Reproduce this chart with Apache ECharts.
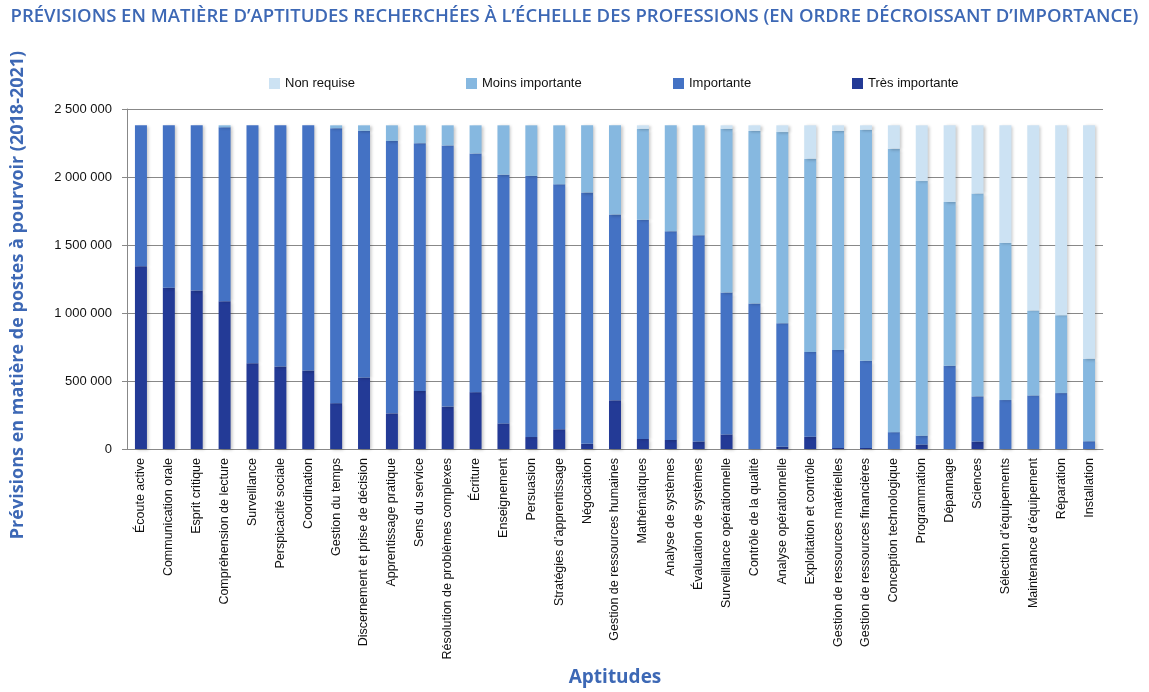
<!DOCTYPE html>
<html>
<head>
<meta charset="utf-8">
<script src="https://cdn.jsdelivr.net/npm/echarts@6/dist/echarts.min.js"></script>
<style>
  html, body { margin: 0; padding: 0; background: #fff; }
  #chart { width: 1149px; height: 692px; }
</style>
</head>
<body>
<div id="chart"></div>
<script>
// données
var aptitudes = ['Écoute active', 'Communication orale', 'Esprit critique', 'Compréhension de lecture', 'Surveillance',
  'Perspicacité sociale', 'Coordination', 'Gestion du temps', 'Discernement et prise de décision', 'Apprentissage pratique',
  'Sens du service', 'Résolution de problèmes complexes', 'Écriture', 'Enseignement', 'Persuasion',
  'Stratégies d’apprentissage', 'Négociation', 'Gestion de ressources humaines', 'Mathématiques', 'Analyse de systèmes',
  'Évaluation de systèmes', 'Surveillance opérationnelle', 'Contrôle de la qualité', 'Analyse opérationnelle', 'Exploitation et contrôle',
  'Gestion de ressources matérielles', 'Gestion de ressources financières', 'Conception technologique', 'Programmation', 'Dépannage',
  'Sciences', 'Sélection d’équipements', 'Maintenance d’équipement', 'Réparation', 'Installation'];

var tresImportante = [1344000, 1186000, 1165000, 1086000, 630000, 606000, 577000, 337000, 525000, 262000,
  427000, 312000, 418000, 188000, 88000, 145000, 38000, 358000, 74000, 67000,
  55000, 107000, 0, 16000, 90000, 8000, 8000, 0, 33000, 0,
  55000, 0, 0, 0, 0];

var importante = [1036000, 1194000, 1215000, 1280000, 1750000, 1774000, 1803000, 2022000, 1814000, 2003000,
  1822000, 1920000, 1755000, 1829000, 1920000, 1801000, 1848000, 1366000, 1612000, 1535000,
  1516000, 1043000, 1069000, 908000, 623000, 720000, 641000, 124000, 65000, 613000,
  332000, 360000, 394000, 411000, 57000];

var moinsImportante = [0, 0, 0, 14000, 0, 0, 0, 21000, 41000, 115000,
  131000, 148000, 207000, 363000, 372000, 434000, 494000, 656000, 668000, 778000,
  809000, 1204000, 1270000, 1406000, 1421000, 1611000, 1698000, 2084000, 1872000, 1204000,
  1492000, 1154000, 625000, 573000, 607000];

var nonRequise = [0, 0, 0, 0, 0, 0, 0, 0, 0, 0,
  0, 0, 0, 0, 0, 0, 0, 0, 26000, 0,
  0, 26000, 41000, 50000, 246000, 41000, 33000, 172000, 410000, 563000,
  501000, 866000, 1361000, 1396000, 1716000];

var yTicks = [0, 500000, 1000000, 1500000, 2000000, 2500000];

var couleurs = {
  'Très importante': '#233a96',
  'Importante': '#4472c4',
  'Moins importante': '#86b8e0',
  'Non requise': '#cce2f3'
};

(function () {
  var chart = echarts.init(document.getElementById('chart'));

  function serie(nom, valeurs) {
    return {
      name: nom,
      type: 'bar',
      stack: 'total',
      barWidth: 12,
      data: valeurs,
      itemStyle: {
        color: couleurs[nom],
        shadowBlur: 3,
        shadowOffsetX: 2,
        shadowOffsetY: 1,
        shadowColor: 'rgba(0,0,0,0.22)'
      }
    };
  }

  function legende(nom, gauche) {
    return {
      data: [nom],
      left: gauche,
      top: 72,
      icon: 'rect',
      itemWidth: 11,
      itemHeight: 11,
      textStyle: { fontSize: 13, color: '#111', fontFamily: 'Liberation Sans, sans-serif' }
    };
  }

  var option = {
    animation: false,
    title: {
      text: 'PRÉVISIONS EN MATIÈRE D’APTITUDES RECHERCHÉES À L’ÉCHELLE DES PROFESSIONS (EN ORDRE DÉCROISSANT D’IMPORTANCE)',
      left: 'center',
      top: 2,
      textStyle: { fontSize: 18.5, fontWeight: 600, color: '#3d68b5', fontFamily: 'Open Sans, sans-serif' }
    },
    legend: [
      legende('Non requise', 264),
      legende('Moins importante', 461),
      legende('Importante', 668),
      legende('Très importante', 847)
    ],
    graphic: [{
      type: 'text',
      x: 18,
      y: 295,
      rotation: Math.PI / 2,
      style: {
        text: 'Prévisions en matière de postes à pourvoir (2018-2021)',
        fill: '#3d68b5',
        font: 'bold 18px "Open Sans", sans-serif',
        align: 'center',
        verticalAlign: 'middle'
      }
    }],
    grid: { left: 127, right: 46, top: 109, bottom: 234 },
    xAxis: {
      type: 'category',
      data: aptitudes,
      name: 'Aptitudes',
      nameLocation: 'middle',
      nameGap: 219,
      nameTextStyle: { fontSize: 19, fontWeight: 'bold', color: '#3d68b5', fontFamily: 'Open Sans, sans-serif' },
      axisLine: { lineStyle: { color: '#888' } },
      axisTick: { alignWithLabel: false, length: 5, lineStyle: { color: '#888' } },
      axisLabel: { interval: 0, rotate: 90, fontSize: 12.5, margin: 9, color: '#111', fontFamily: 'Liberation Sans, sans-serif' }
    },
    yAxis: {
      type: 'value',
      min: yTicks[0],
      max: yTicks[yTicks.length - 1],
      interval: yTicks[1] - yTicks[0],
      axisLine: { show: true, lineStyle: { color: '#888' } },
      axisTick: { show: true, length: 5, lineStyle: { color: '#888' } },
      splitLine: { lineStyle: { color: '#888', width: 1 } },
      axisLabel: {
        fontSize: 13,
        margin: 15,
        color: '#111',
        fontFamily: 'Liberation Sans, sans-serif',
        formatter: function (v) {
          return String(v).replace(/\B(?=(\d{3})+(?!\d))/g, ' ');
        }
      }
    },
    series: [
      serie('Très importante', tresImportante),
      serie('Importante', importante),
      serie('Moins importante', moinsImportante),
      serie('Non requise', nonRequise)
    ]
  };

  chart.setOption(option);
})();
</script>
</body>
</html>
